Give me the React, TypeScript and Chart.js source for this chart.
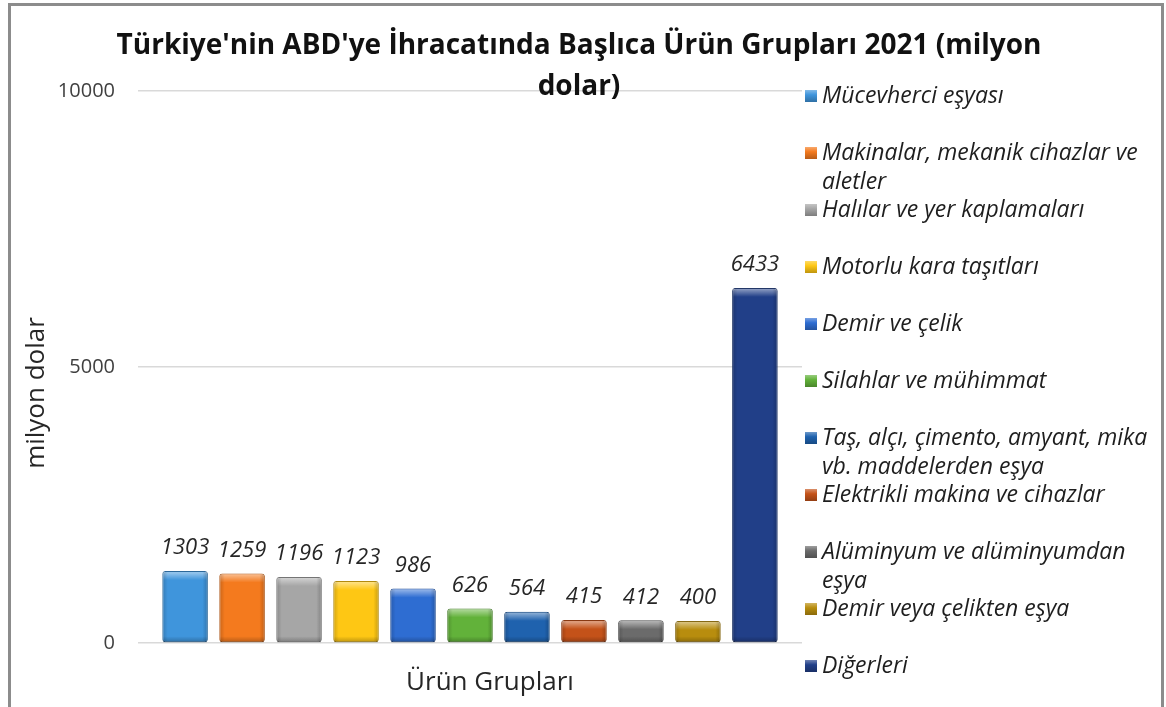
import React, { useEffect, useRef } from "react";
import { Chart, registerables } from "chart.js";

Chart.register(...registerables);

const categories = [
  "Mücevherci eşyası",
  "Makinalar, mekanik cihazlar ve\naletler",
  "Halılar ve yer kaplamaları",
  "Motorlu kara taşıtları",
  "Demir ve çelik",
  "Silahlar ve mühimmat",
  "Taş, alçı, çimento, amyant, mika\nvb. maddelerden eşya",
  "Elektrikli makina ve cihazlar",
  "Alüminyum ve alüminyumdan\neşya",
  "Demir veya çelikten eşya",
  "Diğerleri",
];
const values = [1303, 1259, 1196, 1123, 986, 626, 564, 415, 412, 400, 6433];
const colors = [
  "#3f95dc",
  "#f47a1e",
  "#a6a6a6",
  "#fec714",
  "#2e6dd2",
  "#62b23a",
  "#1f62ae",
  "#c45219",
  "#6b6b6b",
  "#b88d0e",
  "#213f88",
];
const yTicks = [0, 5000, 10000];
const titleLines = [
  "Türkiye'nin ABD'ye İhracatında Başlıca Ürün Grupları 2021 (milyon",
  "dolar)",
];
const xTitle = "Ürün Grupları";
const yTitle = "milyon dolar";

const FONT = "'Open Sans', sans-serif";

function shade(hex: string, amt: number): string {
  const n = parseInt(hex.slice(1), 16);
  let r = (n >> 16) & 255, g = (n >> 8) & 255, b = n & 255;
  const f = (c: number) =>
    Math.max(0, Math.min(255, Math.round(amt >= 0 ? c + (255 - c) * amt : c * (1 + amt))));
  return `rgb(${f(r)},${f(g)},${f(b)})`;
}

const framePlugin = {
  id: "frame",
  beforeDraw(chart: any) {
    const ctx = chart.ctx;
    ctx.save();
    ctx.fillStyle = "#ffffff";
    ctx.fillRect(0, 0, chart.width, chart.height);
    ctx.strokeStyle = "#8c8c8c";
    ctx.lineWidth = 3;
    ctx.strokeRect(9.5, 4.5, 1153, chart.height + 10);
    ctx.restore();
  },
};

const bevelPlugin = {
  id: "bevel",
  afterDatasetsDraw(chart: any) {
    const ctx = chart.ctx;
    ctx.save();
    chart.data.datasets.forEach((ds: any, i: number) => {
      const meta = chart.getDatasetMeta(i);
      meta.data.forEach((el: any) => {
        const { x, y, width, base } = el.getProps(["x", "y", "width", "base"], true);
        const l = x - width / 2;
        const h = base - y;
        const g1 = ctx.createLinearGradient(0, y, 0, y + 9);
        g1.addColorStop(0, "rgba(255,255,255,0.55)");
        g1.addColorStop(1, "rgba(255,255,255,0)");
        ctx.fillStyle = g1;
        ctx.fillRect(l + 1, y + 1, width - 2, Math.min(9, h - 2));
        const g2 = ctx.createLinearGradient(l, 0, l + width, 0);
        g2.addColorStop(0, "rgba(0,0,0,0.18)");
        g2.addColorStop(0.12, "rgba(0,0,0,0)");
        g2.addColorStop(0.88, "rgba(0,0,0,0)");
        g2.addColorStop(1, "rgba(0,0,0,0.22)");
        ctx.fillStyle = g2;
        ctx.fillRect(l + 1, y + 1, width - 2, h - 2);
        const g3 = ctx.createLinearGradient(0, base - 6, 0, base);
        g3.addColorStop(0, "rgba(0,0,0,0)");
        g3.addColorStop(1, "rgba(0,0,0,0.25)");
        ctx.fillStyle = g3;
        ctx.fillRect(l + 1, base - 6, width - 2, 6);
      });
    });
    ctx.restore();
  },
};

const labelPlugin = {
  id: "valueLabels",
  afterDatasetsDraw(chart: any) {
    const ctx = chart.ctx;
    ctx.save();
    ctx.font = `italic 22px ${FONT}`;
    ctx.fillStyle = "#262626";
    ctx.textAlign = "center";
    ctx.textBaseline = "middle";
    chart.data.datasets.forEach((ds: any, i: number) => {
      const meta = chart.getDatasetMeta(i);
      meta.data.forEach((el: any, j: number) => {
        ctx.fillText(String(ds.data[j]), el.x, el.y - 23);
      });
    });
    ctx.restore();
  },
};

const textPlugin = {
  id: "customTexts",
  afterDraw(chart: any) {
    const ctx = chart.ctx;
    const area = chart.chartArea;
    ctx.save();
    ctx.textBaseline = "middle";
    ctx.textAlign = "center";
    ctx.font = `bold 28px ${FONT}`;
    ctx.fillStyle = "#111111";
    titleLines.forEach((t, i) => ctx.fillText(t, chart.width / 2 - 4, 46 + i * 41));
    ctx.font = `26px ${FONT}`;
    ctx.fillStyle = "#262626";
    ctx.fillText(xTitle, (area.left + area.right) / 2 + 20, area.bottom + 40);
    ctx.save();
    ctx.translate(37, (area.top + area.bottom) / 2 + 26);
    ctx.rotate(-Math.PI / 2);
    ctx.font = `26px ${FONT}`;
    ctx.fillText(yTitle, 0, 0);
    ctx.restore();
    ctx.restore();
  },
};

const legendPlugin = {
  id: "customLegend",
  afterDraw(chart: any) {
    const ctx = chart.ctx;
    const area = chart.chartArea;
    const x0 = area.right + 3;
    const yStart = area.top + 5;
    ctx.save();
    ctx.font = `italic 23px ${FONT}`;
    ctx.textAlign = "left";
    ctx.textBaseline = "middle";
    chart.data.datasets.forEach((ds: any, i: number) => {
      const yc = yStart + i * 57;
      const c = ds.baseColor as string;
      const g = ctx.createLinearGradient(0, yc - 6, 0, yc + 6);
      g.addColorStop(0, shade(c, 0.35));
      g.addColorStop(0.4, c);
      g.addColorStop(1, shade(c, -0.25));
      ctx.fillStyle = g;
      ctx.fillRect(x0, yc - 6, 12, 12);
      ctx.fillStyle = "#1e1e1e";
      (ds.legendLines as string[]).forEach((line, k) => {
        ctx.fillText(line, x0 + 17, yc + k * 29);
      });
    });
    ctx.restore();
  },
};

export default function App() {
  const ref = useRef<HTMLCanvasElement | null>(null);

  useEffect(() => {
    document.body.style.margin = "0";
    if (!ref.current) return;
    const datasets = categories.map((name, i) => ({
      label: name.replace("\n", " "),
      legendLines: name.split("\n"),
      baseColor: colors[i],
      data: [values[i]],
      backgroundColor: colors[i],
      borderColor: shade(colors[i], -0.3),
      borderWidth: 1,
      borderRadius: 3,
      borderSkipped: false,
      categoryPercentage: 0.944,
      barPercentage: 0.8,
    }));
    const chart = new Chart(ref.current, {
      type: "bar",
      data: { labels: [""], datasets },
      plugins: [framePlugin, bevelPlugin, labelPlugin, textPlugin, legendPlugin],
      options: {
        responsive: false,
        animation: false,
        layout: { padding: { top: 91, right: 364, bottom: 0, left: 0 } },
        plugins: {
          legend: { display: false },
          title: { display: false },
          tooltip: { enabled: false },
        },
        scales: {
          x: {
            grid: { display: false },
            border: { display: false },
            ticks: { display: false },
            title: { display: false },
            afterFit: (s: any) => {
              s.height = 64;
            },
          },
          y: {
            min: 0,
            max: 10000,
            afterBuildTicks: (s: any) => {
              s.ticks = yTicks.map((v) => ({ value: v }));
            },
            grid: { color: "#d9d9d9", lineWidth: 1.5, drawTicks: false },
            border: { display: false },
            ticks: {
              padding: 23,
              color: "#404040",
              font: { family: FONT, size: 20 },
              callback: (v: any) => String(v),
            },
            title: { display: false },
            afterFit: (s: any) => {
              s.width = 138;
            },
          },
        },
      },
    } as any);
    return () => chart.destroy();
  }, []);

  return (
    <div style={{ width: 1166, height: 707 }}>
      <canvas ref={ref} width={1166} height={707} style={{ display: "block" }} />
    </div>
  );
}
